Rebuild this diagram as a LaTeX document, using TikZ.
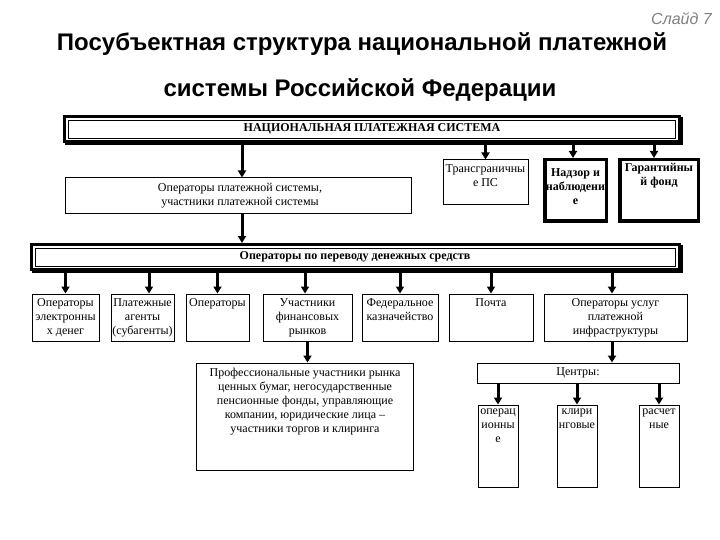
\documentclass[tikz,border=0pt]{standalone}
\usepackage{fontspec}
\setmainfont{Liberation Serif}
\newfontfamily\titlefont{Liberation Sans}
\usetikzlibrary{arrows.meta,fit,calc}
\definecolor{slidegray}{RGB}{128,128,128}
\begin{document}
\begin{tikzpicture}[x=1pt,y=-1pt,
  box/.style={draw, line width=1pt, inner sep=0pt},
  heavybox/.style={draw, line width=3.5pt, inner sep=0pt},
  bigframe/.style={draw, line width=3pt, inner sep=0pt},
  txt/.style={inner sep=0pt, font=\fontsize{12}{14}\selectfont, align=center},
  btxt/.style={inner sep=0pt, font=\fontsize{12}{14}\selectfont\bfseries, align=center},
  titletxt/.style={inner sep=0pt, font=\titlefont\bfseries\fontsize{24}{28}\selectfont},
  slidetxt/.style={inner sep=0pt, text=slidegray, font=\titlefont\itshape\fontsize{16}{18}\selectfont},
  arr/.style={line width=3pt, -{Triangle[width=8pt,length=7pt]}},
  shadowline/.style={line width=2pt},
  innerline/.style={line width=0.8pt},
]
\useasboundingbox[fill=white] (0,0) rectangle (720,540);

% titles
\node[slidetxt, anchor=base east] (slide) at (712,25) {Слайд 7};
\node[titletxt, anchor=base] (title1) at (362,51) {Посубъектная структура национальной платежной};
\node[titletxt, anchor=base] (title2) at (360,97) {системы Российской Федерации};

% national payment system frame
\node[bigframe, fit={(64.5,116.5) (679,141.5)}] (nps) {};
\draw[shadowline] ($(nps.south west)+(2,1)$) -- ($(nps.south east)+(1,1)$) -- ($(nps.north east)+(1,2)$);
\draw[innerline] ($(nps.north west)+(5,5)$) rectangle ($(nps.south east)+(-5,-5)$);
\node[btxt, anchor=base] (npst) at (372,132) {НАЦИОНАЛЬНАЯ ПЛАТЕЖНАЯ СИСТЕМА};

% operators of payment system
\node[box, fit={(65,178) (411,214)}] (opsys) {};
\node[txt] (opsyst) at (240,196) {Операторы платежной системы,\\участники платежной системы};

% right column boxes
\node[box, fit={(443,160) (528,205)}] (trans) {};
\node[txt, anchor=north] (transt) at (485.5,164) {Трансграничны\\е ПС};
\node[heavybox, fit={(544.75,159.75) (606.25,221.25)}] (nadzor) {};
\node[btxt, anchor=north] (nadzort) at (575.5,168) {Надзор и\\наблюдени\\е};
\node[heavybox, fit={(619.75,159.75) (698.25,221.25)}] (garant) {};
\node[btxt, anchor=north] (garantt) at (659,163) {Гарантийны\\й фонд};

% money transfer operators frame
\node[bigframe, fit={(31.5,244.5) (679,269.5)}] (opd) {};
\draw[shadowline] ($(opd.south west)+(2,1)$) -- ($(opd.south east)+(1,1)$) -- ($(opd.north east)+(1,2)$);
\draw[innerline] ($(opd.north west)+(5,5)$) rectangle ($(opd.south east)+(-5,-5)$);
\node[btxt, anchor=base] (opdt) at (355,259) {Операторы по переводу денежных средств};

% bottom row
\node[box, fit={(32,294) (99,341)}] (b1) {};
\node[txt, anchor=north] (b1t) at (65.5,298) {Операторы\\электронны\\х денег};
\node[box, fit={(111,294) (174,341)}] (b2) {};
\node[txt, anchor=north] (b2t) at (142.5,298) {Платежные\\агенты\\(субагенты)};
\node[box, fit={(186,294) (249,341)}] (b3) {};
\node[txt, anchor=north] (b3t) at (217.5,298) {Операторы};
\node[box, fit={(263,294) (352,341)}] (b4) {};
\node[txt, anchor=north] (b4t) at (307.5,298) {Участники\\финансовых\\рынков};
\node[box, fit={(362,294) (438,341)}] (b5) {};
\node[txt, anchor=north] (b5t) at (400,298) {Федеральное\\казначейство};
\node[box, fit={(449,294) (533,341)}] (b6) {};
\node[txt, anchor=north] (b6t) at (491,298) {Почта};
\node[box, fit={(544,294) (687,341)}] (b7) {};
\node[txt, anchor=north] (b7t) at (615.5,298) {Операторы услуг\\платежной\\инфраструктуры};

% professional participants
\node[box, fit={(196,363) (413,470)}] (prof) {};
\node[txt, anchor=north] (proft) at (305,368) {Профессиональные участники рынка\\ценных бумаг, негосударственные\\пенсионные фонды, управляющие\\компании, юридические лица –\\участники торгов и клиринга};

% centres
\node[box, fit={(477,363) (679,383)}] (centry) {};
\node[txt] (centryt) at (578,373) {Центры:};
\node[box, fit={(478,405) (518,487)}] (s1) {};
\node[txt, anchor=north] (s1t) at (498,409) {операц\\ионны\\е};
\node[box, fit={(557,405) (597,487)}] (s2) {};
\node[txt, anchor=north] (s2t) at (577,409) {клири\\нговые};
\node[box, fit={(639,405) (679,487)}] (s3) {};
\node[txt, anchor=north] (s3t) at (659,409) {расчет\\ные};

% connectors
\draw[arr] ([xshift=4pt]opsys.north |- nps.south) -- ([xshift=4pt]opsys.north);
\draw[arr] ([xshift=4pt]opsys.south) -- ([xshift=4pt]opsys.south |- opd.north);
\draw[arr] (trans.north |- nps.south) -- (trans.north);
\draw[arr] ([xshift=-2.5pt]nadzor.north |- nps.south) -- ([xshift=-2.5pt]nadzor.north);
\draw[arr] ([xshift=-5pt]garant.north |- nps.south) -- ([xshift=-5pt]garant.north);

\draw[arr] (b1.north |- opd.south) -- (b1.north);
\draw[arr] ([xshift=6.5pt]b2.north |- opd.south) -- ([xshift=6.5pt]b2.north);
\draw[arr] (b3.north |- opd.south) -- (b3.north);
\draw[arr] ([xshift=-2.5pt]b4.north |- opd.south) -- ([xshift=-2.5pt]b4.north);
\draw[arr] (b5.north |- opd.south) -- (b5.north);
\draw[arr] (b6.north |- opd.south) -- (b6.north);
\draw[arr] ([xshift=-3.5pt]b7.north |- opd.south) -- ([xshift=-3.5pt]b7.north);

\draw[arr] (b4.south) -- (b4.south |- prof.north);
\draw[arr] ([xshift=-3.5pt]b7.south) -- ([xshift=-3.5pt]b7.south |- centry.north);
\draw[arr] (centry.south -| s1.north) -- (s1.north);
\draw[arr] (centry.south -| s2.north) -- (s2.north);
\draw[arr] (centry.south -| s3.north) -- (s3.north);
\end{tikzpicture}
\end{document}
